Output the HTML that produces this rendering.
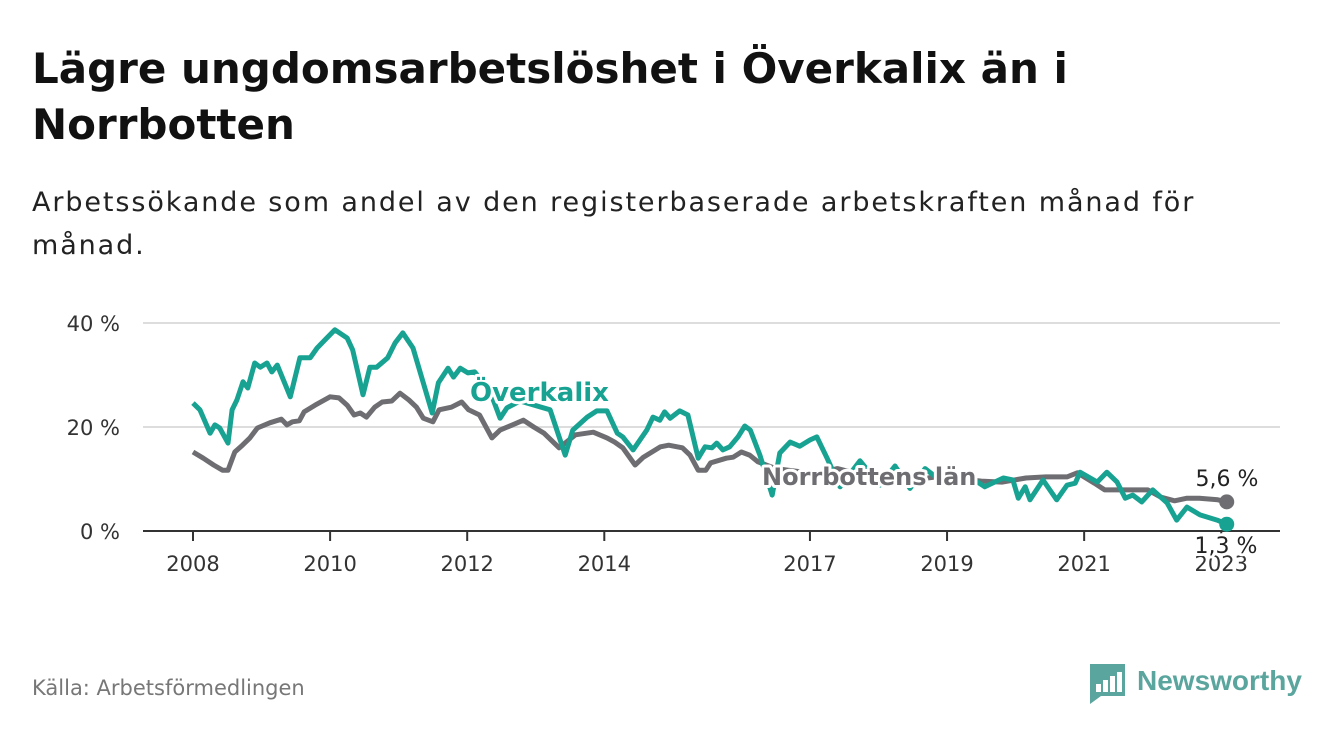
<!DOCTYPE html>
<html><head><meta charset="utf-8"><style>
body{margin:0;background:#fff;width:1340px;height:734px;overflow:hidden;font-family:"Liberation Sans","DejaVu Sans",sans-serif}
h1{position:absolute;left:32px;top:41px;margin:0;font-family:"DejaVu Sans",sans-serif;font-size:42px;line-height:56px;font-weight:bold;color:#111;width:1075px}
.sub{position:absolute;left:32px;top:181px;font-family:"DejaVu Sans",sans-serif;font-size:27px;letter-spacing:1.9px;line-height:43px;color:#222;width:1185px}
.src{position:absolute;left:32px;top:676px;font-family:"DejaVu Sans",sans-serif;font-size:21px;color:#777}
</style></head><body>
<h1>Lägre ungdomsarbetslöshet i Överkalix än i Norrbotten</h1>
<div class="sub">Arbetssökande som andel av den registerbaserade arbetskraften månad för månad.</div>
<div class="src">Källa: Arbetsförmedlingen</div>
<svg width="1340" height="734" style="position:absolute;left:0;top:0" id="chart"></svg>
<script>
const yTicks=[0,20,40];
const xTickYears=[2008,2010,2012,2014,2017,2019,2021,2023];
const okDates=[2008.0,2008.10,2008.25,2008.32,2008.39,2008.51,2008.57,2008.64,2008.73,2008.80,2008.90,2008.98,2009.08,2009.15,2009.23,2009.42,2009.56,2009.71,2009.81,2009.95,2010.07,2010.25,2010.33,2010.48,2010.58,2010.68,2010.84,2010.95,2011.06,2011.21,2011.49,2011.58,2011.72,2011.80,2011.90,2012.01,2012.11,2012.33,2012.48,2012.58,2012.77,2013.21,2013.43,2013.54,2013.75,2013.89,2014.04,2014.19,2014.27,2014.42,2014.62,2014.71,2014.81,2014.88,2014.96,2015.10,2015.22,2015.37,2015.47,2015.57,2015.64,2015.73,2015.83,2015.95,2016.05,2016.13,2016.27,2016.45,2016.56,2016.71,2016.85,2017.0,2017.10,2017.25,2017.44,2017.73,2018.02,2018.24,2018.46,2018.68,2018.97,2019.26,2019.55,2019.82,2019.96,2020.04,2020.14,2020.21,2020.40,2020.60,2020.75,2020.87,2020.94,2021.19,2021.33,2021.48,2021.60,2021.71,2021.84,2022.0,2022.21,2022.35,2022.50,2022.69,2022.94,2023.08];
const okVals=[24.6,23.3,18.8,20.4,19.8,16.9,23.3,25.2,28.7,27.5,32.3,31.5,32.3,30.6,31.9,25.8,33.3,33.3,35.2,37.1,38.7,37.1,34.8,26.2,31.5,31.5,33.3,36.2,38.1,35.2,22.7,28.5,31.3,29.6,31.3,30.4,30.6,27,21.7,23.7,25,23.3,14.6,19.4,21.9,23.1,23.1,18.8,18.1,15.6,19.4,21.9,21.3,22.9,21.7,23.1,22.3,14.0,16.2,16.0,16.9,15.6,16.2,18.1,20.2,19.4,14.6,6.9,15.0,17.1,16.3,17.5,18.1,14.0,8.5,13.5,8.8,12.5,8.2,12.0,9.0,11.0,8.5,10.2,9.8,6.3,8.5,6.0,9.8,6.0,8.8,9.2,11.3,9.4,11.3,9.4,6.3,6.9,5.6,7.9,5.4,2.1,4.6,3.1,2.1,1.3];
const nbDates=[2008.0,2008.15,2008.3,2008.43,2008.51,2008.61,2008.72,2008.83,2008.94,2009.12,2009.29,2009.37,2009.45,2009.55,2009.62,2009.78,2010.0,2010.13,2010.25,2010.35,2010.44,2010.53,2010.65,2010.76,2010.9,2011.02,2011.15,2011.26,2011.36,2011.5,2011.59,2011.77,2011.92,2012.02,2012.18,2012.36,2012.48,2012.66,2012.82,2012.97,2013.12,2013.34,2013.58,2013.84,2014.04,2014.15,2014.27,2014.45,2014.57,2014.82,2014.94,2015.14,2015.25,2015.37,2015.48,2015.55,2015.78,2015.88,2016.0,2016.12,2016.24,2016.5,2016.8,2017.1,2017.4,2017.7,2018.0,2018.3,2018.6,2018.9,2019.2,2019.5,2019.8,2020.15,2020.44,2020.75,2020.9,2021.15,2021.3,2021.5,2021.93,2022.12,2022.32,2022.5,2022.68,2022.95,2023.08];
const nbVals=[15.2,14.0,12.7,11.7,11.7,15.2,16.5,17.9,19.8,20.8,21.5,20.4,21.0,21.2,22.9,24.2,25.8,25.6,24.2,22.3,22.7,21.9,23.8,24.8,25.0,26.5,25.2,23.8,21.7,21.0,23.3,23.8,24.8,23.3,22.3,17.9,19.4,20.4,21.3,20.0,18.8,16.0,18.5,19.0,17.9,17.1,16.0,12.7,14.2,16.2,16.5,16.0,14.6,11.7,11.7,13.1,14.0,14.2,15.2,14.6,13.3,12.0,11.5,11.0,12.0,11.0,10.5,11.0,10.0,10.5,10.0,9.6,9.4,10.2,10.4,10.4,11.2,9.2,7.9,7.9,7.9,6.5,5.8,6.3,6.3,6.0,5.6];
const NS="http://www.w3.org/2000/svg";
const svg=document.getElementById('chart');
const x0=143,x1=1280;
const X=yr=>193+(yr-2008)*68.55;
const Y=v=>531-v*5.2;
function mk(t,a,p){const e=document.createElementNS(NS,t);for(const k in a)e.setAttribute(k,a[k]);(p||svg).appendChild(e);return e;}
yTicks.forEach(v=>{
  if(v>0){const g=mk('line',{x1:x0,x2:x1,y1:Y(v),y2:Y(v),stroke:'#ddd','stroke-width':2});
  
  }
  const t=mk('text',{x:120,y:Y(v)+8,'text-anchor':'end','font-size':21,fill:'#333','font-family':'DejaVu Sans, sans-serif'});t.textContent=v+' %';
  
  
});
xTickYears.forEach(yr=>{
  const l=mk('line',{x1:X(yr),x2:X(yr),y1:531,y2:541,stroke:'#333','stroke-width':2});
  
  
  const t=mk('text',{x:X(yr),y:571,'text-anchor':'middle','font-size':21,fill:'#333','font-family':'DejaVu Sans, sans-serif'});t.textContent=yr;
  
  
});
const ax=mk('line',{x1:x0,x2:x1,y1:531,y2:531,stroke:'#333','stroke-width':2});


function series(d,v,c,name){
  const p=mk('path',{d:d.map((yr,i)=>(i?'L':'M')+X(yr).toFixed(1)+','+Y(v[i]).toFixed(1)).join(''),fill:'none',stroke:c,'stroke-width':5,'stroke-linejoin':'round'});
  
  
  const n=d.length-1;
  const c2=mk('circle',{cx:X(d[n]),cy:Y(v[n]),r:7.5,fill:c});
  
  
}
series(nbDates,nbVals,'#6e6d71','norrbotten');
series(okDates,okVals,'#17a292','overkalix');
function lab(txt,x,y,c,size,w,name,anchor){
  const t=mk('text',{x:x,y:y,'font-size':size,'font-weight':w,fill:c,stroke:'#fff','stroke-width':6,'paint-order':'stroke','stroke-linejoin':'round','text-anchor':anchor||'start','font-family':'DejaVu Sans, sans-serif'});
  t.textContent=txt;
  
  
}
lab('Överkalix',470,401,'#17a292',26,'bold','overkalix-label');
lab('Norrbottens län',762,485,'#6e6d71',24,'bold','norrbotten-label');
lab('5,6 %',1227,486,'#222',22,'normal','norrbotten-end-value','middle');
lab('1,3 %',1226,553,'#222',22,'normal','overkalix-end-value','middle');
const lg=mk('g',{});


mk('path',{d:'M1090,664 h35 v32 h-24 l-11,8 z',fill:'#5aa59d'},lg);
[[1096,684,5],[1103,680,5],[1110,676,5],[1117,672,5]].forEach(r=>mk('rect',{x:r[0],y:r[1],width:r[2],height:692-r[1],fill:'#fff'},lg));
const lt=mk('text',{x:1137,y:690,'font-size':28,'font-weight':'bold',fill:'#5aa59d'},lg);lt.textContent='Newsworthy';
</script>
</body></html>
